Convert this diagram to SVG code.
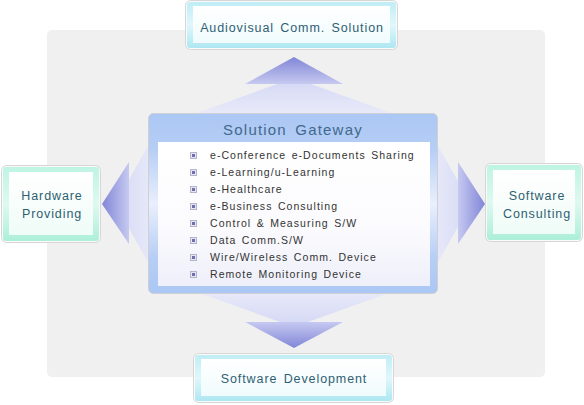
<svg xmlns="http://www.w3.org/2000/svg" width="584" height="405" viewBox="0 0 584 405">
<style>
.lbl{font-family:"Liberation Sans",Arial,sans-serif;font-size:12.5px;fill:#2f5f73;text-anchor:middle;letter-spacing:0.9px;word-spacing:2px}
.ttl{font-family:"Liberation Sans",Arial,sans-serif;font-size:15px;fill:#40698c;text-anchor:middle;letter-spacing:1.2px;word-spacing:3px}
.item{font-family:"Liberation Sans",Arial,sans-serif;font-size:10.5px;fill:#333;letter-spacing:1.05px;word-spacing:1.5px}
.outer{fill:#fafafa;stroke:#d6d6d6;stroke-width:1}
</style>
<defs>
<linearGradient id="hv" x1="0" y1="0" x2="0" y2="1"><stop offset="0" stop-color="#8186d7"/><stop offset="1" stop-color="#c6c9f0"/></linearGradient>
<linearGradient id="hvd" x1="0" y1="1" x2="0" y2="0"><stop offset="0" stop-color="#8186d7"/><stop offset="1" stop-color="#c6c9f0"/></linearGradient>
<linearGradient id="hl" x1="0" y1="0" x2="1" y2="0"><stop offset="0" stop-color="#8186d7"/><stop offset="1" stop-color="#c6c9f0"/></linearGradient>
<linearGradient id="hr" x1="1" y1="0" x2="0" y2="0"><stop offset="0" stop-color="#8186d7"/><stop offset="1" stop-color="#c6c9f0"/></linearGradient>
<linearGradient id="lv" x1="0" y1="0" x2="0" y2="1"><stop offset="0" stop-color="#d4d7f4"/><stop offset="1" stop-color="#eceefa"/></linearGradient>
<linearGradient id="lvd" x1="0" y1="1" x2="0" y2="0"><stop offset="0" stop-color="#d4d7f4"/><stop offset="1" stop-color="#eceefa"/></linearGradient>
<linearGradient id="ll" x1="0" y1="0" x2="1" y2="0"><stop offset="0" stop-color="#d4d7f4"/><stop offset="1" stop-color="#eceefa"/></linearGradient>
<linearGradient id="lr" x1="1" y1="0" x2="0" y2="0"><stop offset="0" stop-color="#d4d7f4"/><stop offset="1" stop-color="#eceefa"/></linearGradient>
<linearGradient id="gw" x1="0" y1="0" x2="0" y2="1"><stop offset="0" stop-color="#abc7f4"/><stop offset="0.2" stop-color="#b6cef5"/><stop offset="0.5" stop-color="#e9effd"/><stop offset="0.8" stop-color="#b6cef5"/><stop offset="1" stop-color="#abc7f4"/></linearGradient>
<linearGradient id="gwin" x1="0" y1="0" x2="0" y2="1"><stop offset="0" stop-color="#ffffff"/><stop offset="0.6" stop-color="#fbfbfe"/><stop offset="1" stop-color="#eeeff9"/></linearGradient>
<linearGradient id="cy" x1="0" y1="0" x2="0" y2="1"><stop offset="0" stop-color="#c0edf5"/><stop offset="0.5" stop-color="#e0f7fb"/><stop offset="1" stop-color="#ade7f2"/></linearGradient>
<linearGradient id="mt" x1="0" y1="0" x2="0" y2="1"><stop offset="0" stop-color="#bef4e3"/><stop offset="0.5" stop-color="#def9f0"/><stop offset="1" stop-color="#acefd9"/></linearGradient>
<linearGradient id="wcy" x1="0" y1="0" x2="0" y2="1"><stop offset="0" stop-color="#ffffff"/><stop offset="1" stop-color="#f0fbfd"/></linearGradient>
<linearGradient id="wmt" x1="0" y1="0" x2="0" y2="1"><stop offset="0" stop-color="#ffffff"/><stop offset="1" stop-color="#effcf7"/></linearGradient>
<g id="bullet"><rect x="0.5" y="0.5" width="6" height="6" fill="#e6e6f2" stroke="#b4b4cc" stroke-width="1"/><rect x="2" y="2" width="3" height="3" fill="#6f6fae"/></g>
</defs>
<rect x="47" y="30" width="498" height="347" rx="5" fill="#f0f0f0"/>
<g id="connectors">
<polygon points="294,78 177,120 411,120" fill="url(#lv)"/>
<polygon points="294,57 245,84 343,84" fill="url(#hv)"/>
<polygon points="294,327 177,285 411,285" fill="url(#lvd)"/>
<polygon points="294,348 245,322 343,322" fill="url(#hvd)"/>
<polygon points="115,204 160,125 160,283" fill="url(#ll)"/>
<polygon points="102,204 129,162 129,244" fill="url(#hl)"/>
<polygon points="471,204 426,125 426,283" fill="url(#lr)"/>
<polygon points="485,204 458,162 458,244" fill="url(#hr)"/>
</g>
<g id="gateway">
<rect x="148.5" y="113.5" width="289" height="180" rx="5" fill="url(#gw)" stroke="#d0d0d4"/>
<rect x="158" y="142" width="272" height="144" fill="url(#gwin)"/>
<text class="ttl" x="293" y="135">Solution Gateway</text>
<use href="#bullet" x="190" y="152"/><text class="item" x="210" y="159">e-Conference e-Documents Sharing</text>
<use href="#bullet" x="190" y="169"/><text class="item" x="210" y="176">e-Learning/u-Learning</text>
<use href="#bullet" x="190" y="186"/><text class="item" x="210" y="193">e-Healthcare</text>
<use href="#bullet" x="190" y="203"/><text class="item" x="210" y="210">e-Business Consulting</text>
<use href="#bullet" x="190" y="220"/><text class="item" x="210" y="227">Control &amp; Measuring S/W</text>
<use href="#bullet" x="190" y="237"/><text class="item" x="210" y="244">Data Comm.S/W</text>
<use href="#bullet" x="190" y="254"/><text class="item" x="210" y="261">Wire/Wireless Comm. Device</text>
<use href="#bullet" x="190" y="271"/><text class="item" x="210" y="278">Remote Monitoring Device</text>
</g>
<g id="audiovisual">
<rect class="outer" x="185.5" y="0.5" width="212" height="49" rx="5"/>
<rect x="187" y="2" width="209" height="46" rx="3" fill="url(#cy)"/>
<rect x="193" y="6" width="197" height="37" fill="url(#wcy)"/>
<text class="lbl" x="292" y="32">Audiovisual Comm. Solution</text>
</g>
<g id="hardware">
<rect class="outer" x="1.5" y="165.5" width="99" height="77" rx="5"/>
<rect x="3" y="167" width="96" height="74" rx="3" fill="url(#mt)"/>
<rect x="9" y="172" width="84" height="63" fill="url(#wmt)"/>
<text class="lbl" x="52" y="200">Hardware</text>
<text class="lbl" x="52" y="218">Providing</text>
</g>
<g id="software-consulting">
<rect class="outer" x="485.5" y="163.5" width="97" height="78" rx="5"/>
<rect x="487" y="165" width="94" height="75" rx="3" fill="url(#mt)"/>
<rect x="493" y="170" width="82" height="64" fill="url(#wmt)"/>
<text class="lbl" x="537" y="200">Software</text>
<text class="lbl" x="537" y="218">Consulting</text>
</g>
<g id="software-development">
<rect class="outer" x="193.5" y="353.5" width="200" height="49" rx="5"/>
<rect x="195" y="355" width="197" height="46" rx="3" fill="url(#cy)"/>
<rect x="201" y="359" width="185" height="37" fill="url(#wcy)"/>
<text class="lbl" x="294" y="383">Software Development</text>
</g>
</svg>
